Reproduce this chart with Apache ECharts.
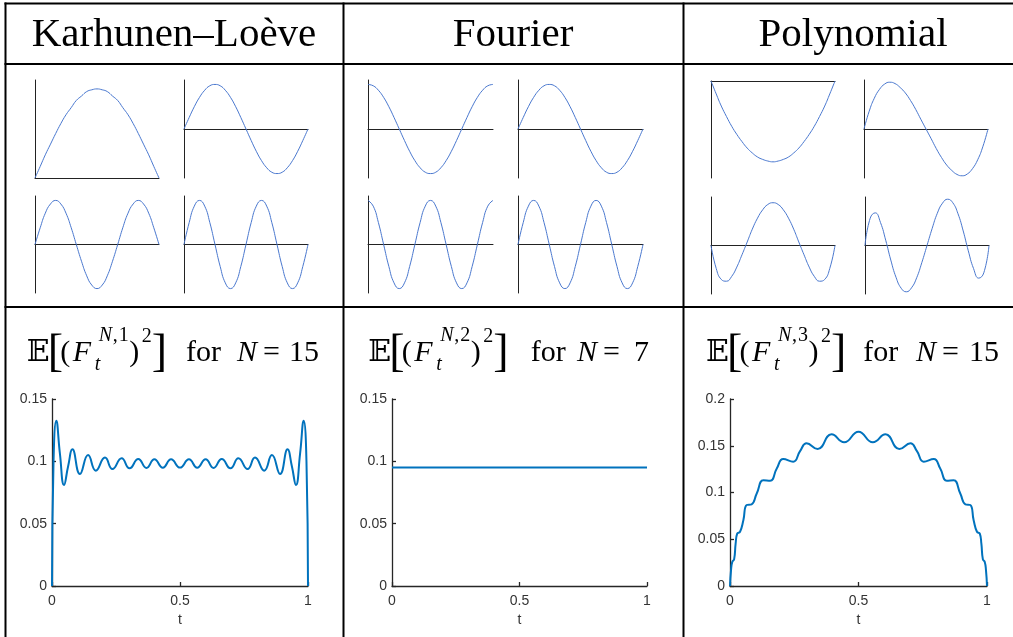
<!DOCTYPE html>
<html>
<head>
<meta charset="utf-8">
<script src="https://cdn.jsdelivr.net/npm/echarts@6/dist/echarts.min.js"></script>
<style>
html, body { margin: 0; padding: 0; background: #fff; }
#chart { width: 1013px; height: 637px; }
</style>
</head>
<body>
<div id="chart"></div>
<script>
// column headings
const columnTitles = ['Karhunen–Loève', 'Fourier', 'Polynomial']
const sizeN = ['15', '7', '15']

// t grid for the small basis plots
const basisT = [0, 0.042, 0.083, 0.125, 0.167, 0.208, 0.25, 0.292, 0.333, 0.375, 0.417, 0.458, 0.5,
  0.542, 0.583, 0.625, 0.667, 0.708, 0.75, 0.792, 0.833, 0.875, 0.917, 0.958, 1]

// Karhunen-Loeve basis functions
const klPhi1 = [0, .13, .26, .38, .50, .61, .71, .79, .87, .92, .97, .99, 1, .99, .97, .92, .87, .79, .71, .61, .50, .38, .26, .13, 0]
const klPhi2 = [0, .26, .5, .71, .87, .97, 1, .97, .87, .71, .5, .26, 0, -.26, -.5, -.71, -.87, -.97, -1, -.97, -.87, -.71, -.5, -.26, 0]
const klPhi3 = [0, .38, .71, .92, 1, .92, .71, .38, 0, -.38, -.71, -.92, -1, -.92, -.71, -.38, 0, .38, .71, .92, 1, .92, .71, .38, 0]
const klPhi4 = [0, .5, .87, 1, .87, .5, 0, -.5, -.87, -1, -.87, -.5, 0, .5, .87, 1, .87, .5, 0, -.5, -.87, -1, -.87, -.5, 0]

// Fourier basis functions
const fourierPhi1 = [1, .97, .87, .71, .5, .26, 0, -.26, -.5, -.71, -.87, -.97, -1, -.97, -.87, -.71, -.5, -.26, 0, .26, .5, .71, .87, .97, 1]
const fourierPhi2 = [0, .26, .5, .71, .87, .97, 1, .97, .87, .71, .5, .26, 0, -.26, -.5, -.71, -.87, -.97, -1, -.97, -.87, -.71, -.5, -.26, 0]
const fourierPhi3 = [1, .87, .5, 0, -.5, -.87, -1, -.87, -.5, 0, .5, .87, 1, .87, .5, 0, -.5, -.87, -1, -.87, -.5, 0, .5, .87, 1]
const fourierPhi4 = [0, .5, .87, 1, .87, .5, 0, -.5, -.87, -1, -.87, -.5, 0, .5, .87, 1, .87, .5, 0, -.5, -.87, -1, -.87, -.5, 0]

// polynomial basis functions
const polyPhi1 = [0, -.16, -.31, -.44, -.56, -.66, -.75, -.83, -.89, -.94, -.97, -.99, -1, -.99, -.97, -.94, -.89, -.83, -.75, -.66, -.56, -.44, -.31, -.16, 0]
const polyPhi2 = [0, .40, .69, .89, 1.01, 1.05, 1.02, .93, .81, .64, .44, .22, 0, -.22, -.44, -.64, -.81, -.93, -1.02, -1.05, -1.01, -.89, -.69, -.40, 0]
const polyPhi3 = [0, -.52, -.77, -.81, -.70, -.49, -.21, .08, .37, .62, .81, .93, .97, .93, .81, .62, .37, .08, -.21, -.49, -.70, -.81, -.77, -.52, 0]
const polyPhi4 = [0, .62, .74, .52, .12, -.33, -.72, -.97, -1.05, -.96, -.73, -.39, 0, .39, .73, .96, 1.05, .97, .72, .33, -.12, -.52, -.74, -.62, 0]

// E[(F_t)^2] curves, [t, value]
const klVar = [[0, 0], [0.006, 0.100], [0.017, 0.1326], [0.031, 0.106], [0.047, 0.081], [0.063, 0.096], [0.080, 0.1096],
  [0.109, 0.0898], [0.141, 0.105], [0.171, 0.0925], [0.207, 0.103], [0.236, 0.0938], [0.272, 0.1024], [0.303, 0.0944],
  [0.337, 0.1019], [0.369, 0.0947], [0.400, 0.1016], [0.433, 0.0949], [0.465, 0.1016], [0.500, 0.0950], [0.535, 0.1016],
  [0.567, 0.0949], [0.600, 0.1016], [0.631, 0.0947], [0.663, 0.1019], [0.697, 0.0944], [0.728, 0.1024], [0.764, 0.0938],
  [0.793, 0.103], [0.829, 0.0925], [0.859, 0.105], [0.891, 0.0898], [0.920, 0.1096], [0.937, 0.096], [0.953, 0.081],
  [0.969, 0.106], [0.983, 0.1326], [0.994, 0.100], [1, 0]]
const fourierVar = [[0, 0.095], [1, 0.095]]
const polyVar = [[0, 0], [0.004, 0.017], [0.009, 0.026], [0.016, 0.0285], [0.022, 0.0455], [0.028, 0.056], [0.039, 0.058],
  [0.052, 0.0704], [0.065, 0.0866], [0.084, 0.0874], [0.104, 0.099], [0.130, 0.113], [0.156, 0.1126], [0.182, 0.1257],
  [0.207, 0.1358], [0.246, 0.133], [0.272, 0.1439], [0.298, 0.1526], [0.341, 0.1465], [0.395, 0.1622], [0.444, 0.1537],
  [0.500, 0.165], [0.556, 0.1537], [0.605, 0.1622], [0.659, 0.1465], [0.702, 0.1526], [0.728, 0.1439], [0.754, 0.133],
  [0.793, 0.1358], [0.818, 0.1257], [0.844, 0.1126], [0.870, 0.113], [0.896, 0.099], [0.916, 0.0874], [0.935, 0.0866],
  [0.948, 0.0704], [0.961, 0.058], [0.972, 0.056], [0.978, 0.0455], [0.984, 0.0285], [0.991, 0.026], [0.996, 0.017], [1, 0]]

const serif = "'Liberation Serif', 'DejaVu Serif', serif"
const sans = "'Liberation Sans', Arial, sans-serif"

const chart = echarts.init(document.getElementById('chart'))

const grids = []
const xAxes = []
const yAxes = []
const series = []

// small basis plots: [left, top, width, height, values, ymin, ymax]
const small = [
  [35, 80, 124, 98, klPhi1, 0, 1.1], [184, 80, 124, 98, klPhi2, -1.1, 1.1],
  [35, 196, 124, 97, klPhi3, -1.1, 1.1], [184, 196, 124, 97, klPhi4, -1.1, 1.1],
  [368, 80, 125, 98, fourierPhi1, -1.1, 1.1], [518, 80, 125, 98, fourierPhi2, -1.1, 1.1],
  [368, 196, 125, 97, fourierPhi3, -1.1, 1.1], [518, 196, 125, 97, fourierPhi4, -1.1, 1.1],
  [711, 81, 124, 97, polyPhi1, -1.2, 0], [864, 80, 124, 98, polyPhi2, -1.1, 1.1],
  [711, 197, 124, 97, polyPhi3, -1.1, 1.1], [865, 197, 124, 97, polyPhi4, -1.1, 1.1]
]
small.forEach(function(s, i) {
  grids.push({ left: s[0], top: s[1], width: s[2], height: s[3], containLabel: false, outerBoundsMode: 'none' })
  const ax = {
    gridIndex: i, type: 'value',
    axisLine: { show: true, onZero: true, lineStyle: { color: '#222', width: 1 } },
    axisTick: { show: false }, axisLabel: { show: false }, splitLine: { show: false }
  }
  xAxes.push(Object.assign({}, ax, { min: 0, max: 1 }))
  yAxes.push(Object.assign({}, ax, { min: s[5], max: s[6] }))
  series.push({
    type: 'line', xAxisIndex: i, yAxisIndex: i, smooth: true, showSymbol: false, silent: true,
    lineStyle: { color: '#4a78cf', width: 1 },
    data: basisT.map(function(t, k) { return [t, s[4][k]] })
  })
})

// bottom variance plots
const big = [
  [52, 399, 256, 187, klVar, 0.15], [392, 399, 255, 187, fourierVar, 0.15], [730, 399, 257, 187, polyVar, 0.2]
]
big.forEach(function(b, j) {
  const i = small.length + j
  grids.push({ left: b[0], top: b[1], width: b[2], height: b[3], containLabel: false, outerBoundsMode: 'none' })
  const common = {
    gridIndex: i, type: 'value',
    axisLine: { show: true, onZero: false, lineStyle: { color: '#262626', width: 1.3 } },
    axisTick: { show: true, inside: true, length: 4, lineStyle: { color: '#262626', width: 1.3 } },
    axisLabel: { color: '#333', fontSize: 14, fontFamily: sans },
    splitLine: { show: false }
  }
  xAxes.push(Object.assign({}, common, {
    min: 0, max: 1, interval: 0.5,
    axisLabel: Object.assign({}, common.axisLabel, { margin: 8 }),
    name: 't', nameLocation: 'middle', nameGap: 27,
    nameTextStyle: { color: '#333', fontSize: 14, fontFamily: sans }
  }))
  yAxes.push(Object.assign({}, common, {
    min: 0, max: b[5], interval: 0.05,
    axisLabel: Object.assign({}, common.axisLabel, { margin: 5 })
  }))
  series.push({
    type: 'line', xAxisIndex: i, yAxisIndex: i, smooth: b[4].length > 2, showSymbol: false, silent: true,
    lineStyle: { color: '#0072BD', width: 2 },
    data: b[4]
  })
})

// table rules
const graphic = []
function rule(x1, y1, x2, y2) {
  graphic.push({ type: 'line', silent: true, shape: { x1: x1, y1: y1, x2: x2, y2: y2 }, style: { stroke: '#000', lineWidth: 2 } })
}
rule(4.5, 3.5, 1013, 3.5)
rule(4.5, 64, 1013, 64)
rule(4.5, 307, 1013, 307)
rule(5.5, 2.5, 5.5, 637)
rule(343.5, 2.5, 343.5, 637)
rule(683.5, 2.5, 683.5, 637)

function txt(x, y, text, size, italic, align) {
  graphic.push({
    type: 'text', x: x, y: y, silent: true,
    style: { text: text, fontSize: size, fontFamily: serif, fontStyle: italic ? 'italic' : 'normal',
      fill: '#000', align: align || 'left', verticalAlign: 'middle' }
  })
}

// headings
const headCenters = [174, 513, 853]
columnTitles.forEach(function(t, i) { txt(headCenters[i], 35, t, 41, false, 'center') })

// formula: E[(F_t^{N,k})^2]  for  N = n
// [x of E, x of "for", x of N, x of "=", x of number]
const formulaX = [[26.7, 186, 237, 263, 289], [368.3, 530.7, 577, 603, 634], [706, 863.3, 916, 942, 969]]
formulaX.forEach(function(f, i) {
  const x0 = f[0]
  const y = 353
  txt(x0, y, '𝔼', 30)
  txt(x0 + 21, 354, '[', 46)
  txt(x0 + 33.5, y, '(', 30)
  txt(x0 + 46, y, 'F', 30, true)
  txt(x0 + 68, 365, 't', 20, true)
  txt(x0 + 72, 336, 'N', 20, true)
  txt(x0 + 86, 336, ',', 20)
  txt(x0 + 92, 336, String(i + 1), 20)
  txt(x0 + 102.5, y, ')', 30)
  txt(x0 + 115, 337, '2', 20)
  txt(x0 + 125, 354, ']', 46)
  txt(f[1], y, 'for', 30)
  txt(f[2], y, 'N', 30, true)
  txt(f[3], y, '=', 30)
  txt(f[4], y, sizeN[i], 30)
})

chart.setOption({
  animation: false,
  backgroundColor: '#fff',
  grid: grids,
  xAxis: xAxes,
  yAxis: yAxes,
  series: series,
  graphic: graphic
})
</script>
</body>
</html>
